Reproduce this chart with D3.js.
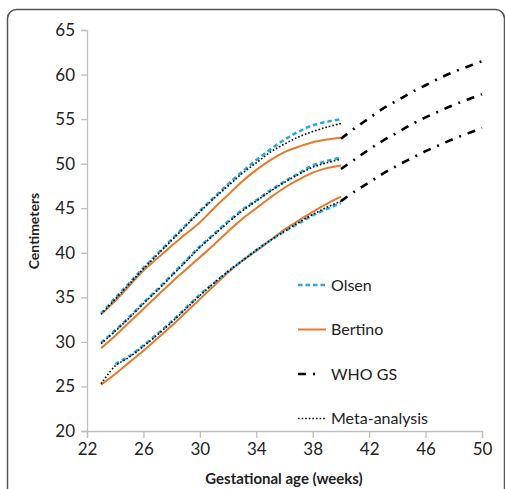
<!DOCTYPE html>
<html>
<head>
<meta charset="utf-8">
<script src="https://cdn.jsdelivr.net/npm/d3@7"></script>
<style>
    body { margin: 0; background: #fff; }
    svg { display: block; }
    .tick text { font-family: Lato, "Liberation Sans", sans-serif; font-size: 17px; fill: #222; }
</style>
</head>
<body>
<svg id="chart" width="505" height="489"></svg>
<script>
// weeks for the preterm references and for the WHO part
var weeks = [23, 24, 25, 26, 27, 28, 29, 30, 31, 32, 33, 34, 35, 36, 37, 38, 39, 40];
var whoWeeks = [40, 41, 42, 43, 44, 45, 46, 47, 48, 49, 50];

// Olsen (10th starts at 24 weeks)
var olsen90 = [33.2, 34.9, 36.6, 38.3, 39.9, 41.5, 43.1, 44.7, 46.2, 47.7, 49.1, 50.4, 51.6, 52.7, 53.6, 54.3, 54.7, 55.0];
var olsen50 = [29.9, 31.3, 32.8, 34.4, 35.9, 37.5, 39.1, 40.7, 42.1, 43.5, 44.8, 45.9, 47.0, 48.0, 48.9, 49.8, 50.3, 50.7];
var olsen10 = [null, 27.5, 28.4, 29.6, 30.9, 32.3, 33.8, 35.3, 36.6, 37.9, 39.1, 40.3, 41.4, 42.4, 43.3, 44.2, 44.9, 45.6];

// Bertino
var bertino90 = [33.1, 34.6, 36.3, 38.0, 39.4, 40.8, 42.1, 43.4, 45.0, 46.5, 48.0, 49.3, 50.4, 51.3, 51.9, 52.4, 52.7, 52.9];
var bertino50 = [29.3, 30.7, 32.2, 33.7, 35.2, 36.7, 38.1, 39.5, 40.9, 42.4, 43.8, 45.0, 46.2, 47.3, 48.2, 49.0, 49.5, 49.8];
var bertino10 = [25.2, 26.4, 27.7, 29.0, 30.4, 31.8, 33.3, 34.8, 36.3, 37.8, 39.1, 40.2, 41.4, 42.6, 43.6, 44.6, 45.5, 46.3];

// Meta-analysis
var meta90 = [33.1, 34.8, 36.5, 38.2, 39.8, 41.4, 43.0, 44.6, 46.1, 47.5, 48.9, 50.1, 51.3, 52.2, 53.0, 53.6, 54.1, 54.5];
var meta50 = [29.8, 31.2, 32.7, 34.3, 35.8, 37.4, 39.0, 40.6, 42.0, 43.4, 44.7, 45.8, 46.9, 47.9, 48.8, 49.6, 50.1, 50.5];
var meta10 = [25.3, 27.3, 28.3, 29.5, 30.8, 32.2, 33.7, 35.2, 36.6, 37.9, 39.1, 40.3, 41.4, 42.4, 43.4, 44.3, 45.1, 45.8];

// WHO growth standard
var who90 = [52.8, 54.0, 55.1, 56.2, 57.1, 58.0, 58.8, 59.6, 60.3, 60.9, 61.5];
var who50 = [49.4, 50.5, 51.6, 52.6, 53.5, 54.4, 55.2, 55.9, 56.6, 57.2, 57.8];
var who10 = [45.8, 46.9, 47.9, 48.9, 49.8, 50.6, 51.4, 52.1, 52.8, 53.4, 54.0];

var xTicks = [22, 26, 30, 34, 38, 42, 46, 50];
var yTicks = [20, 25, 30, 35, 40, 45, 50, 55, 60, 65];
var legendNames = ["Olsen", "Bertino", "WHO GS", "Meta-analysis"];

var fontFam = 'Lato, "Liberation Sans", sans-serif';

var styles = {
    Olsen: { color: "#2aa9e0", width: 2.6, dash: "4.5,3" },
    Bertino: { color: "#e8782a", width: 2, dash: null },
    "WHO GS": { color: "#000", width: 2.6, dash: "8,7,2,7" },
    "Meta-analysis": { color: "#000", width: 1.6, dash: "1.6,2" }
};

var svg = d3.select("#chart");

// frame
svg.append("rect")
    .attr("x", 7.5).attr("y", 9.5)
    .attr("width", 497).attr("height", 500)
    .attr("rx", 9)
    .attr("fill", "none")
    .attr("stroke", "#555")
    .attr("stroke-width", 1.5);

var x = d3.scaleLinear().domain([22, 50]).range([87, 482]);
var y = d3.scaleLinear().domain([20, 65]).range([431, 30]);

var xAxis = svg.append("g")
    .attr("transform", "translate(0,431)")
    .call(d3.axisBottom(x).tickValues(xTicks).tickSize(7).tickPadding(5));
var yAxis = svg.append("g")
    .attr("transform", "translate(87,0)")
    .call(d3.axisLeft(y).tickValues(yTicks).tickSize(6).tickPadding(6));

[xAxis, yAxis].forEach(function (g) {
    g.select(".domain").attr("stroke", "#bfbfbf").attr("stroke-width", 1.3);
    g.selectAll(".tick line").attr("stroke", "#bfbfbf").attr("stroke-width", 1.3);
});

var line = d3.line()
    .defined(function (d) { return d[1] != null; })
    .x(function (d) { return x(d[0]); })
    .y(function (d) { return y(d[1]); })
    .curve(d3.curveCatmullRom);

function draw(xs, vals, name) {
    var st = styles[name];
    svg.append("path")
        .datum(xs.map(function (w, i) { return [w, vals[i]]; }))
        .attr("d", line)
        .attr("fill", "none")
        .attr("stroke", st.color)
        .attr("stroke-width", st.width)
        .attr("stroke-dasharray", st.dash);
}

[bertino90, bertino50, bertino10].forEach(function (s) { draw(weeks, s, "Bertino"); });
[olsen90, olsen50, olsen10].forEach(function (s) { draw(weeks, s, "Olsen"); });
[meta90, meta50, meta10].forEach(function (s) { draw(weeks, s, "Meta-analysis"); });
[who90, who50, who10].forEach(function (s) { draw(whoWeeks, s, "WHO GS"); });

// legend
var legend = svg.append("g");
legendNames.forEach(function (name, i) {
    var st = styles[name];
    var ly = 285 + i * 44.5;
    var lx1 = 298, lx2 = 326;
    if (name === "WHO GS") { lx2 = 322; }
    legend.append("line")
        .attr("x1", lx1).attr("x2", lx2)
        .attr("y1", ly).attr("y2", ly)
        .attr("stroke", st.color)
        .attr("stroke-width", st.width)
        .attr("stroke-dasharray", st.dash);
    legend.append("text")
        .attr("x", 331).attr("y", ly + 5.5)
        .attr("font-family", fontFam)
        .attr("font-size", 16)
        .attr("fill", "#222")
        .text(name);
});

// axis titles
svg.append("text")
    .attr("transform", "translate(39,231) rotate(-90)")
    .attr("text-anchor", "middle")
    .attr("font-family", fontFam)
    .attr("font-weight", "bold")
    .attr("font-size", 14)
    .attr("fill", "#222")
    .text("Centimeters");

svg.append("text")
    .attr("x", 284).attr("y", 484)
    .attr("text-anchor", "middle")
    .attr("font-family", fontFam)
    .attr("font-weight", "bold")
    .attr("font-size", 15)
    .attr("fill", "#222")
    .text("Gestational age (weeks)");
</script>
</body>
</html>
